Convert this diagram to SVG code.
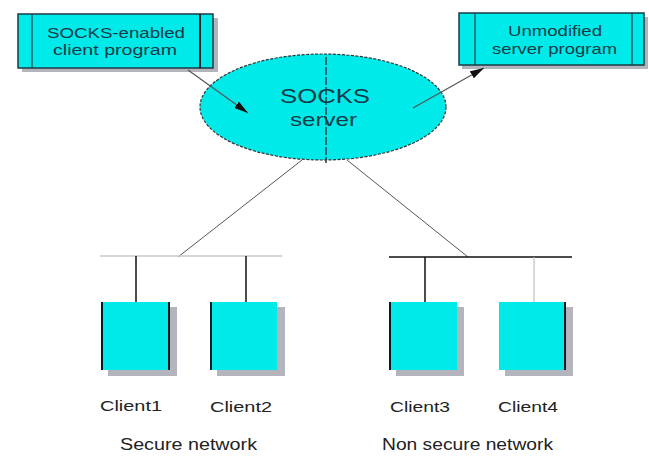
<svg xmlns="http://www.w3.org/2000/svg" width="649" height="456" viewBox="0 0 649 456">
  <style>
    .box { fill: #00eaea; stroke: #1a3a44; stroke-width: 1.5; }
    .shadow { fill: #b4b4bc; }
    .edge { stroke: #0c1c22; stroke-width: 2; }
    .inner { stroke: #1a3a44; stroke-width: 1.2; }
    .txt { font-family: "Liberation Sans", Arial, sans-serif; fill: #123a46; }
    .lbl { font-family: "Liberation Sans", Arial, sans-serif; fill: #222; }
    .wire { stroke: #555; stroke-width: 1; fill: none; }
  </style>
  <defs>
    <marker id="arrow" viewBox="0 0 14 8" refX="14" refY="4" markerWidth="14" markerHeight="8" orient="auto" markerUnits="userSpaceOnUse">
      <path d="M0,0 L14,4 L0,8 z" fill="#111"/>
    </marker>
  </defs>
  <rect width="649" height="456" fill="#ffffff"/>

  <!-- SOCKS-enabled client program -->
  <g id="client-program">
    <rect class="shadow" x="22" y="18" width="196" height="54"/>
    <rect class="box" x="18" y="14" width="195" height="54"/>
    <line class="inner" x1="32" y1="14" x2="32" y2="68"/>
    <line class="edge" x1="200" y1="14" x2="200" y2="68"/>
    <text class="txt" x="47" y="38" font-size="14" textLength="138" lengthAdjust="spacingAndGlyphs">SOCKS-enabled</text>
    <text class="txt" x="53" y="55" font-size="14" textLength="124" lengthAdjust="spacingAndGlyphs">client program</text>
  </g>

  <!-- Unmodified server program -->
  <g id="server-program">
    <rect class="shadow" x="462" y="17" width="186" height="52"/>
    <rect class="box" x="459" y="13" width="185" height="52"/>
    <line class="inner" x1="475" y1="13" x2="475" y2="65"/>
    <line class="inner" x1="632" y1="13" x2="632" y2="65"/>
    <text class="txt" x="508" y="36" font-size="14" textLength="94" lengthAdjust="spacingAndGlyphs">Unmodified</text>
    <text class="txt" x="492" y="54" font-size="14" textLength="125" lengthAdjust="spacingAndGlyphs">server program</text>
  </g>

  <!-- SOCKS server -->
  <g id="socks-server">
    <ellipse cx="323" cy="107" rx="123" ry="53" fill="#00eaea" stroke="#333" stroke-width="1.2" stroke-dasharray="3 1.5"/>
    <line x1="326" y1="57" x2="326" y2="163" stroke="#1a3a44" stroke-width="1.5" stroke-dasharray="8 2"/>
    <text class="txt" x="280" y="103" font-size="21" textLength="90" lengthAdjust="spacingAndGlyphs">SOCKS</text>
    <text class="txt" x="290" y="126" font-size="18" textLength="67" lengthAdjust="spacingAndGlyphs">server</text>
  </g>

  <!-- clients -->
  <g id="client1">
    <rect class="shadow" x="108" y="307" width="69" height="69"/>
    <rect x="102" y="302" width="67" height="68" fill="#00eaea"/>
    <line class="edge" x1="102" y1="302" x2="102" y2="370"/>
    <line class="edge" x1="169" y1="302" x2="169" y2="370"/>
    <text class="lbl" x="100" y="411" font-size="15" textLength="62" lengthAdjust="spacingAndGlyphs">Client1</text>
  </g>
  <g id="client2">
    <rect class="shadow" x="217" y="307" width="68" height="69"/>
    <rect x="211" y="302" width="66" height="68" fill="#00eaea"/>
    <line class="edge" x1="211" y1="302" x2="211" y2="370"/>
    <text class="lbl" x="210" y="412" font-size="15" textLength="62" lengthAdjust="spacingAndGlyphs">Client2</text>
  </g>
  <g id="client3">
    <rect class="shadow" x="396" y="307" width="68" height="69"/>
    <rect x="390" y="302" width="67" height="68" fill="#00eaea"/>
    <line class="edge" x1="390" y1="302" x2="390" y2="370"/>
    <text class="lbl" x="390" y="412" font-size="15" textLength="60" lengthAdjust="spacingAndGlyphs">Client3</text>
  </g>
  <g id="client4">
    <rect class="shadow" x="505" y="307" width="68" height="69"/>
    <rect x="499" y="302" width="66" height="68" fill="#00eaea"/>
    <line class="edge" x1="565" y1="302" x2="565" y2="370"/>
    <text class="lbl" x="498" y="412" font-size="15" textLength="60" lengthAdjust="spacingAndGlyphs">Client4</text>
  </g>

  <!-- connectors, drawn over the nodes so the arrows show inside the ellipse -->
  <g id="connectors">
    <line class="wire" x1="188" y1="70" x2="248" y2="113" marker-end="url(#arrow)" style="stroke-width:1.2"/>
    <line class="wire" x1="413" y1="108" x2="484" y2="68" marker-end="url(#arrow)" style="stroke-width:1.2"/>
    <line class="wire" x1="302" y1="160" x2="178" y2="257"/>
    <line class="wire" x1="347" y1="160" x2="468" y2="257"/>
    <!-- secure LAN -->
    <line x1="100" y1="256" x2="282" y2="256" stroke="#c8c8c8" stroke-width="1.5"/>
    <line x1="136" y1="256" x2="136" y2="302" stroke="#111" stroke-width="1.5"/>
    <line x1="246" y1="256" x2="246" y2="302" stroke="#111" stroke-width="1.5"/>
    <!-- non secure LAN -->
    <line x1="389" y1="257" x2="572" y2="257" stroke="#111" stroke-width="1.5"/>
    <line x1="425" y1="257" x2="425" y2="302" stroke="#111" stroke-width="1.5"/>
    <line x1="534" y1="257" x2="534" y2="302" stroke="#c0c0c0" stroke-width="1.2"/>
  </g>

  <!-- network captions -->
  <text class="lbl" x="120" y="450" font-size="16" textLength="137" lengthAdjust="spacingAndGlyphs">Secure network</text>
  <text class="lbl" x="382" y="450" font-size="16" textLength="171" lengthAdjust="spacingAndGlyphs">Non secure network</text>
</svg>
